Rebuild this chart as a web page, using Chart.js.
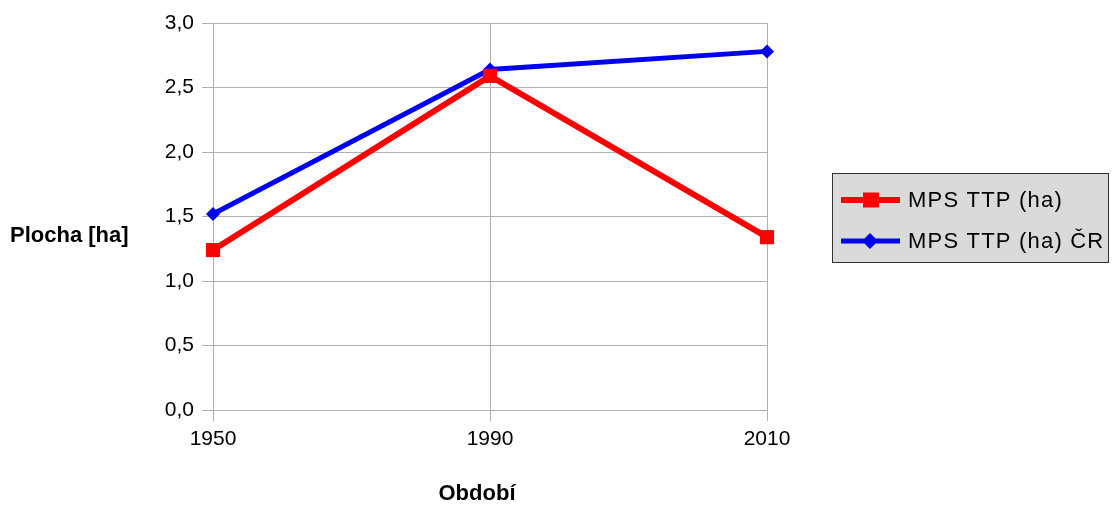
<!DOCTYPE html>
<html>
<head>
<meta charset="utf-8">
<script src="https://cdn.jsdelivr.net/npm/chart.js@4/dist/chart.umd.min.js"></script>
<style>
  html, body { margin: 0; padding: 0; background: #fff; }
  #wrap { width: 1118px; height: 505px; position: relative; }
</style>
</head>
<body>
<div id="wrap"><canvas id="myChart"></canvas></div>
<script>
const years = ['1950', '1990', '2010'];
const mpsTtp = [1.24, 2.59, 1.34];
const mpsTtpCr = [1.52, 2.64, 2.78];
const seriesNames = ['MPS TTP (ha)', 'MPS TTP (ha) ČR'];
const yTitle = 'Plocha [ha]';
const xTitle = 'Období';

const FONT = '"Liberation Sans", Arial, sans-serif';
const GRID = '#b0b0b0';
const RED = '#ff0000';
const BLUE = '#0000f0';

// axis titles and the boxed legend are painted by hand
const extras = {
    id: 'extras',
    afterDraw(chart) {
        const c = chart.ctx;
        const a = chart.chartArea;
        c.save();
        c.fillStyle = '#000';
        c.font = 'bold 22px ' + FONT;
        c.textBaseline = 'middle';
        c.textAlign = 'left';
        c.fillText(yTitle, 10, a.top + (a.bottom - a.top) * 0.55);
        c.textAlign = 'center';
        c.fillText(xTitle, (a.left + a.right) / 2 - 13, 494);

        // legend box
        const bx = a.right + 65, by = 173, bw = 276, bh = 89;
        c.fillStyle = '#dadada';
        c.fillRect(bx, by, bw, bh);
        c.strokeStyle = '#333';
        c.lineWidth = 1;
        c.strokeRect(bx + 0.5, by + 0.5, bw, bh);

        chart.data.datasets.forEach((ds, i) => {
            const cy = by + 27 + i * 41;
            c.strokeStyle = ds.borderColor;
            c.lineWidth = ds.borderWidth;
            c.beginPath();
            c.moveTo(bx + 9, cy);
            c.lineTo(bx + 68, cy);
            c.stroke();
            c.fillStyle = ds.borderColor;
            c.beginPath();
            if (ds.pointStyle === 'rect') {
                c.rect(bx + 31, cy - 7.5, 16, 15);
            } else {
                c.moveTo(bx + 38, cy - 8);
                c.lineTo(bx + 46, cy);
                c.lineTo(bx + 38, cy + 8);
                c.lineTo(bx + 30, cy);
                c.closePath();
            }
            c.fill();
            c.fillStyle = '#000';
            c.font = '22px ' + FONT;
            c.letterSpacing = '1.2px';
            c.textAlign = 'left';
            c.fillText(ds.label, bx + 76, cy + 1);
            c.letterSpacing = '0px';
        });
        c.restore();
    }
};

const ctx = document.getElementById('myChart').getContext('2d');

const myChart = new Chart(ctx, {
    type: 'line',
    data: {
        labels: years,
        datasets: [
            {
                label: seriesNames[0],
                data: mpsTtp,
                borderColor: RED,
                backgroundColor: RED,
                borderWidth: 6,
                pointStyle: 'rect',
                pointRadius: 10,
                pointBorderWidth: 0,
                tension: 0
            },
            {
                label: seriesNames[1],
                data: mpsTtpCr,
                borderColor: BLUE,
                backgroundColor: BLUE,
                borderWidth: 5,
                pointStyle: 'rectRot',
                pointRadius: 7,
                pointBorderWidth: 0,
                tension: 0
            }
        ]
    },
    options: {
        responsive: true,
        maintainAspectRatio: false,
        animation: false,
        layout: {
            padding: { left: 140, right: 351, top: 23, bottom: 0 }
        },
        scales: {
            x: {
                type: 'category',
                offset: false,
                grid: { color: GRID, tickLength: 11, lineWidth: 1 },
                border: { color: GRID },
                ticks: {
                    color: '#000',
                    padding: 6,
                    maxRotation: 0,
                    font: { family: FONT, size: 21 }
                },
                afterFit: (s) => { s.height = 95; }
            },
            y: {
                min: 0,
                max: 3,
                grid: { color: GRID, tickLength: 11, lineWidth: 1 },
                border: { color: GRID },
                ticks: {
                    stepSize: 0.5,
                    color: '#000',
                    padding: 8,
                    font: { family: FONT, size: 21 },
                    callback: (v) => v.toFixed(1).replace('.', ',')
                },
                afterFit: (s) => { s.width = 73; }
            }
        },
        plugins: {
            legend: { display: false },
            tooltip: { enabled: false }
        }
    },
    plugins: [extras]
});
</script>
</body>
</html>
